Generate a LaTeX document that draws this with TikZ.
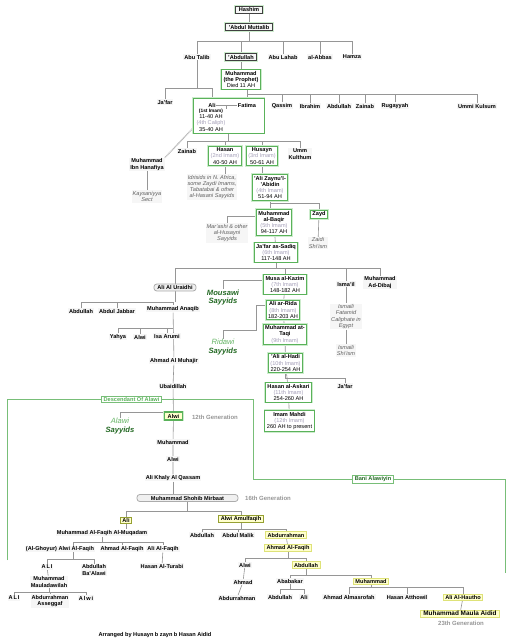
\documentclass[tikz,border=0pt]{standalone}
\usepackage{fontspec}
\setmainfont{Liberation Sans}
\usetikzlibrary{backgrounds}
\definecolor{imamgreen}{RGB}{90, 178, 90}
\definecolor{glowgreen}{RGB}{205, 236, 205}
\definecolor{linkgrey}{RGB}{150, 150, 150}
\definecolor{imamgrey}{RGB}{165, 160, 185}
\definecolor{notegrey}{RGB}{95, 95, 95}
\definecolor{paleyellow}{RGB}{255, 255, 205}
\definecolor{yellowedge}{RGB}{222, 226, 120}
\definecolor{oliveedge}{RGB}{150, 160, 50}
\definecolor{sayyiddark}{RGB}{35, 105, 35}
\definecolor{sayyidlight}{RGB}{100, 180, 100}
\definecolor{framegreen}{RGB}{120, 190, 120}
\definecolor{gengrey}{RGB}{150, 150, 150}

\newcommand{\treefont}{\fontsize{5.6}{6.3}\selectfont}
\newcommand{\imamno}[1]{{\mdseries\color{imamgrey}#1}}
\newcommand{\ahyears}[1]{{\mdseries #1}}

\tikzset{
  person/.style={font={\treefont\bfseries}, fill=gray!7, inner xsep=1pt, inner ysep=0.8pt, align=center},
  imambox/.style={person, fill=white, draw=imamgreen, line width=0.9pt, inner xsep=2pt, inner ysep=1.2pt,
                  preaction={draw=glowgreen, line width=2.8pt}},
  elderbox/.style={person, fill=gray!6, draw=black!75, line width=0.8pt, inner xsep=3pt, inner ysep=1.5pt,
                   preaction={draw=glowgreen, line width=2.8pt}},
  alawibox/.style={imambox, fill=paleyellow, line width=1.4pt, inner xsep=3pt, inner ysep=2pt},
  goldbox/.style={person, fill=paleyellow, draw=yellowedge, line width=0.8pt, inner xsep=2pt, inner ysep=1.2pt},
  olivebox/.style={goldbox, draw=oliveedge},
  roundbox/.style={person, fill=gray!12, draw=gray!65, line width=0.8pt, rounded corners=3pt, inner ysep=1.5pt},
  notetext/.style={font={\treefont\itshape}, text=notegrey, fill=gray!7, inner sep=0.8pt, align=center},
  sayyidtext/.style={font={\fontsize{7.6}{8.4}\selectfont\bfseries\itshape}, text=sayyiddark, align=center, inner sep=0.5pt},
  gentext/.style={font={\fontsize{6}{7}\selectfont\bfseries}, text=gengrey},
  framelabel/.style={person, fill=white, draw=framegreen, line width=0.6pt, inner xsep=2pt, inner ysep=1.2pt},
  link/.style={draw=linkgrey, line width=0.6pt},
  rope/.style={draw=gray!55, line width=1.3pt, dash pattern=on 1pt off 0.6pt},
  framelink/.style={draw=framegreen, line width=0.7pt}
}

\begin{document}
\begin{tikzpicture}[x=1pt, y=-1pt]
  \useasboundingbox (0, 0) rectangle (511, 640);

  % Hashim to the Prophet
  \node[elderbox] (hashim) at (249, 9.5) {Hashim};
  \node[elderbox] (amut) at (249, 27) {'Abdul Muttalib};
  \node[person] (abutalib) at (197, 57) {Abu Talib};
  \node[elderbox] (abdullah) at (241, 57) {'Abdullah};
  \node[person] (abulahab) at (283, 57) {Abu Lahab};
  \node[person] (abbas) at (320, 57) {al-Abbas};
  \node[person] (hamza) at (352, 57) {Hamza};
  \node[imambox] (prophet) at (241, 79.5) {Muhammad\\(the Prophet)\\\ahyears{Died 11 AH}};

  \node[person] (jafar) at (165, 102) {Ja'far};
  \node[imambox, minimum width=71, minimum height=35] (alibox) at (228.5, 115.5) {};
  \node[font={\treefont\bfseries}, inner sep=0.5pt] (ali) at (212, 105) {Ali};
  \node[font={\treefont\bfseries}, inner sep=0.5pt] (fatima) at (247, 105) {Fatima};
  \node[font={\treefont}, align=center, inner sep=0pt] (alinfo) at (211, 120)
    {{\bfseries\fontsize{4.8}{5.8}\selectfont (1st Imam)}\\11-40 AH\\\textcolor{imamgrey}{(4th Caliph)}\\35-40 AH};
  \draw[link] (ali) -- (fatima) coordinate[pos=0.5] (wed);
  \draw[link] (wed) -- ++(0, 4);

  \node[person] (qassim) at (282, 106) {Qassim};
  \node[person] (ibrahim) at (310, 106) {Ibrahim};
  \node[person] (abdullah2) at (339, 106) {Abdullah};
  \node[person] (zainab) at (365, 106) {Zainab};
  \node[person] (rugayyah) at (395, 106) {Rugayyah};
  \node[person] (ummikulsum) at (477, 106) {Ummi Kulsum};

  % the Imams
  \node[person] (zainab2) at (187, 151) {Zainab};
  \node[imambox] (hasan) at (225, 156) {Hasan\\\imamno{(2nd Imam)}\\\ahyears{40-50 AH}};
  \node[imambox] (husayn) at (262, 156) {Husayn\\\imamno{(3rd Imam)}\\\ahyears{50-61 AH}};
  \node[person] (ummkulthum) at (300, 154) {Umm\\Kulthum};
  \node[person] (hanafiya) at (147, 164.5) {Muhammad\\Ibn Hanafiya};
  \node[notetext] (kaysaniya) at (147, 196.5) {Kaysaniyya\\Sect};
  \node[notetext] (idrisids) at (212, 187) {Idrisids in N. Africa,\\some Zaydi Imams,\\Tabatabai \& other\\al-Hasani Sayyids};
  \node[imambox] (zayn) at (270, 187.5) {'Ali Zaynu'l-\\'Abidin\\\imamno{(4th Imam)}\\\ahyears{51-94 AH}};
  \node[imambox] (baqir) at (274, 222.5) {Muhammad\\al-Baqir\\\imamno{(5th Imam)}\\\ahyears{94-117 AH}};
  \node[imambox] (zayd) at (319, 214.5) {Zayd};
  \node[notetext] (marashi) at (227, 233) {Mar'ashi \& other\\al-Husayni\\Sayyids};
  \node[notetext] (zaidi) at (318, 243) {Zaidi\\Shi'ism};
  \node[imambox] (sadiq) at (276, 252.5) {Ja'far as-Sadiq\\\imamno{(6th Imam)}\\\ahyears{117-148 AH}};

  \node[roundbox, inner xsep=3.5pt] (uraidhi) at (175, 287.5) {Ali Al Uraidhi};
  \node[imambox] (musa) at (285, 284.5) {Musa al-Kazim\\\imamno{(7th Imam)}\\\ahyears{148-182 AH}};
  \node[person] (ismail) at (346, 284) {Isma'il};
  \node[person] (dibaj) at (380, 282.5) {Muhammad\\Ad-Dibaj};
  \node[notetext] (fatimid) at (346, 316.5) {Ismaili\\Fatamid\\Caliphate in\\Egypt};
  \node[notetext] (ismailism) at (346, 350.5) {Ismaili\\Shi'ism};
  \node[sayyidtext] (mousawi) at (223, 297.5) {Mousawi\\Sayyids};
  \node[imambox] (rida) at (283, 310) {Ali ar-Rida\\\imamno{(8th Imam)}\\\ahyears{182-203 AH}};
  \node[imambox] (taqi) at (285, 334.5) {Muhammad at-\\Taqi\\\imamno{(9th Imam)}};
  \node[sayyidtext] (ridawi) at (223, 347) {\textcolor{sayyidlight}{\mdseries Ridawi}\\Sayyids};
  \node[imambox] (hadi) at (285.5, 363) {'Ali al-Hadi\\\imamno{(10th Imam)}\\\ahyears{220-254 AH}};
  \node[person] (jafar2) at (345, 386) {Ja'far};
  \node[imambox] (askari) at (288.5, 392.5) {Hasan al-Askari\\\imamno{(11th Imam)}\\\ahyears{254-260 AH}};
  \node[imambox] (mahdi) at (289.5, 421) {Imam Mahdi\\\imamno{(12th Imam)}\\\ahyears{260 AH to present}};

  % Ali al-Uraidhi to Alwi
  \node[person] (abdullah3) at (81, 311) {Abdullah};
  \node[person] (abduljabbar) at (117, 311) {Abdul Jabbar};
  \node[person] (anaqib) at (173, 309) {Muhammad Anaqib};
  \node[person] (yahya) at (118, 337) {Yahya};
  \node[person] (alwi1) at (140, 337) {Alwi};
  \node[person] (isa) at (167, 336) {Isa Arumi};
  \node[person] (muhajir) at (174, 361) {Ahmad Al Muhajir};
  \node[person] (ubaidillah) at (173, 386) {Ubaidillah};

  \node[framelabel, text=imamgreen] (desc) at (131.5, 399.5) {Descendant Of Alawi};
  \node[alawibox] (alawi) at (173.5, 416) {Alwi};
  \node[gentext] (gen12) at (215, 417) {12th Generation};
  \node[sayyidtext] (alawisay) at (120, 426) {\textcolor{sayyidlight}{\mdseries Alawi}\\Sayyids};
  \node[person] (muhammad3) at (173, 442) {Muhammad};
  \node[person] (alwi2) at (173, 459) {Alwi};
  \node[person] (qassam) at (173, 478) {Ali Khaly Al Qassam};
  \node[framelabel, text=sayyiddark] (bani) at (373, 479.5) {Bani Alawiyin};

  % Muhammad Shohib Mirbaat
  \node[roundbox, inner xsep=14pt] (mirbaat) at (187.5, 498) {Muhammad Shohib Mirbaat};
  \node[gentext] (gen16) at (268, 498) {16th Generation};
  \node[olivebox] (ali2) at (126, 520.5) {Ali};
  \node[olivebox] (amulfaqih) at (241, 519) {Alwi Amulfaqih};
  \node[person] (faqihmuq) at (102, 533) {Muhammad Al-Faqih Al-Muqadam};
  \node[person] (ghoyur) at (60, 549) {(Al-Ghoyur) Alwi Al-Faqih};
  \node[person] (ahmadfaqih1) at (122, 549) {Ahmad Al-Faqih};
  \node[person] (alifaqih) at (163, 549) {Ali Al-Faqih};
  \coordinate (ghoyurstem) at ([xshift=13pt]ghoyur.north);
  \node[person] (ali3) at (47, 567) {A\,L\,I};
  \node[person] (bafaqih) at (94, 570) {Abdullah\\Ba'Alawi};
  \node[person] (turabi) at (162, 566) {Hasan Al-Turabi};
  \node[person] (maula) at (49, 582) {Muhammad\\Mauladawilah};
  \node[person] (ali4) at (14, 598) {A\,L\,I};
  \node[person] (asseggaf) at (50, 601) {Abdurrahman\\Asseggaf};
  \node[person] (alwi3) at (86, 598) {A\,l\,w\,i};

  \node[person] (abdullah4) at (202, 535) {Abdullah};
  \node[person] (abdulmalik) at (238, 535) {Abdul Malik};
  \node[goldbox] (abdurrahman) at (286, 535) {Abdurrahman};
  \node[goldbox] (ahmadfaqih2) at (288, 548) {Ahmad Al-Faqih};
  \node[person] (alwi4) at (245, 565) {Alwi};
  \node[goldbox] (abdullah5) at (306, 565) {Abdullah};
  \node[person] (ahmad5) at (243, 582) {Ahmad};
  \node[person] (abdurrahman2) at (237, 598) {Abdurrahman};
  \node[person] (ababakar) at (290, 581) {Ababakar};
  \node[goldbox] (muhammad4) at (371, 581.5) {Muhammad};
  \node[person] (abdullah6) at (280, 597) {Abdullah};
  \node[person] (ali5) at (304, 597) {Ali};
  \node[person] (almasrofah) at (349, 597) {Ahmad Almasrofah};
  \node[person] (atthowil) at (407, 597) {Hasan Atthowil};
  \node[goldbox] (hautho) at (463, 597.5) {Ali Al-Hautho};
  \node[goldbox, font={\fontsize{6.4}{7}\selectfont\bfseries}, inner xsep=3pt] (aidid) at (460, 613.5) {Muhammad Maula Aidid};
  \node[gentext] (gen23) at (461, 623.5) {23th Generation};

  \node[person, fill=none] (arranged) at (155, 635) {Arranged by Husayn b zayn b Hasan Aidid};

  \begin{scope}[on background layer]
    \fill[white] (0, 0) rectangle (511, 640);

    \draw[link] (hashim) -- (amut);
    \coordinate (bus1) at (0, 41);
    \draw[link] (amut) -- (amut |- bus1);
    \draw[link] (abutalib) |- (bus1 -| hamza) -- (hamza);
    \foreach \kid in {abdullah, abulahab, abbas}
      \draw[link] (\kid) -- (\kid |- bus1);
    \draw[link] (abdullah) -- (prophet);

    \coordinate (bus2) at (0, 88);
    \draw[link] (abutalib) -- (abutalib |- bus2);
    \draw[link] (jafar) |- (bus2 -| ali) -- (ali);

    \coordinate (bus3) at (0, 94);
    \draw[link] (prophet -| fatima) -- (fatima);
    \draw[link] (bus3 -| fatima) -| (ummikulsum);
    \foreach \kid in {qassim, ibrahim, abdullah2, zainab, rugayyah}
      \draw[link] (\kid) -- (\kid |- bus3);

    \coordinate (bus4) at (0, 141);
    \draw[link] (alibox) -- (alibox |- bus4);
    \draw[link] (zainab2) |- (bus4 -| ummkulthum) -- (ummkulthum);
    \foreach \kid in {hasan, husayn}
      \draw[link] (\kid) -- (\kid |- bus4);
    \draw[rope] (alibox.200) -- (hanafiya.north east);
    \draw[link] (hanafiya) -- (kaysaniya);
    \draw[link] (hasan) -- (hasan |- idrisids.north);
    \draw[link] (husayn) -- (husayn |- zayn.north);

    \coordinate (bus5) at (0, 203);
    \draw[link] (zayn) -- (zayn |- baqir.north);
    \draw[link] (zayn |- bus5) -| (zayd);
    \draw[link] (baqir.west |- 0, 216) -| (marashi);
    \draw[link] (zayd) -- (zaidi);
    \draw[link] (baqir) -- (sadiq);

    \coordinate (bus6) at (0, 268);
    \draw[link] (sadiq) -- (sadiq |- bus6);
    \draw[link] (uraidhi) |- (bus6 -| dibaj) -- (dibaj);
    \foreach \kid in {musa, ismail}
      \draw[link] (\kid) -- (\kid |- bus6);
    \draw[link] (ismail) -- (fatimid) -- (ismailism);
    \draw[link] (musa.west |- 0, 280) -| (mousawi);
    \draw[link] (musa) -- (rida) -- (taqi) -- (hadi) -- (askari) -- (mahdi);
    \coordinate (ridawibend) at (256, 330);
    \draw[link] (rida.west |- 0, 305) -| (ridawibend) -| (ridawi);
    \coordinate (bus7) at (0, 378);
    \draw[link] (hadi) |- (bus7 -| jafar2) -- (jafar2);

    \coordinate (bus8) at (0, 302);
    \draw[link] (uraidhi) -- (uraidhi |- bus8);
    \draw[link] (abdullah3) |- (bus8 -| anaqib) -- (anaqib);
    \draw[link] (abduljabbar) -- (abduljabbar |- bus8);
    \coordinate (bus9) at (0, 328);
    \draw[link] (yahya) |- (bus9 -| anaqib);
    \foreach \kid in {alwi1, isa}
      \draw[link] (\kid) -- (\kid |- bus9);
    \draw[link] (anaqib) -- (muhajir) -- (ubaidillah) -- (alawi) -- (muhammad3) -- (alwi2) -- (qassam);
    \draw[link] (qassam) -- (qassam |- mirbaat.north);
    \draw[link] (alawi.west |- 0, 412) -| (alawisay);

    \coordinate (bus10) at (0, 511);
    \draw[link] (mirbaat) -- (mirbaat |- bus10);
    \draw[link] (ali2) |- (bus10 -| amulfaqih) -- (amulfaqih);
    \draw[link] (ali2) -- (ali2 |- faqihmuq.north);
    \coordinate (bus11) at (0, 542);
    \draw[link] (faqihmuq) -- (faqihmuq |- bus11);
    \draw[link] (ghoyurstem) |- (bus11 -| alifaqih) -- (alifaqih);
    \draw[link] (ahmadfaqih1) -- (ahmadfaqih1 |- bus11);
    \draw[link] (alifaqih) -- (turabi);
    \coordinate (bus12) at (0, 559);
    \draw[link] (ghoyurstem) -- (ghoyurstem |- bus12);
    \draw[link] (ali3) |- (bus12 -| bafaqih) -- (bafaqih);
    \draw[link] (ali3) -- (maula);
    \coordinate (bus13) at (0, 592);
    \draw[link] (maula) -- (maula |- bus13);
    \draw[link] (ali4) |- (bus13 -| alwi3) -- (alwi3);
    \draw[link] (asseggaf) -- (asseggaf |- bus13);

    \coordinate (bus14) at (0, 529);
    \draw[link] (amulfaqih) -- (amulfaqih |- bus14);
    \draw[link] (abdullah4) |- (bus14 -| abdurrahman) -- (abdurrahman);
    \draw[link] (abdulmalik) -- (abdulmalik |- bus14);
    \draw[link] (abdurrahman) -- (ahmadfaqih2);
    \coordinate (bus15) at (0, 558.5);
    \draw[link] (ahmadfaqih2) -- (ahmadfaqih2 |- bus15);
    \draw[link] (alwi4) |- (bus15 -| abdullah5) -- (abdullah5);
    \draw[link] (alwi4) -- (ahmad5) -- (abdurrahman2);
    \coordinate (bus16) at (0, 575);
    \draw[link] (abdullah5) -- (abdullah5 |- bus16);
    \draw[link] (ababakar) |- (bus16 -| muhammad4) -- (muhammad4);
    \coordinate (bus17) at (0, 589);
    \draw[link] (ababakar) -- (ababakar |- bus17);
    \draw[link] (abdullah6) |- (bus17 -| ali5) -- (ali5);
    \coordinate (bus18) at (0, 587);
    \draw[link] (muhammad4) -- (muhammad4 |- bus18);
    \draw[link] (almasrofah) |- (bus18 -| hautho) -- (hautho);
    \draw[link] (atthowil) -- (atthowil |- bus18);
    \draw[link] (hautho) -- (aidid);

    % green frame of the Alawi line
    \coordinate (framesw) at (7, 560);
    \coordinate (framese) at (505, 573);
    \coordinate (framebend) at (253, 0);
    \draw[framelink] (framesw) |- (desc) -| (framebend |- bani) -- (bani) -| (framese);
  \end{scope}
\end{tikzpicture}
\end{document}
